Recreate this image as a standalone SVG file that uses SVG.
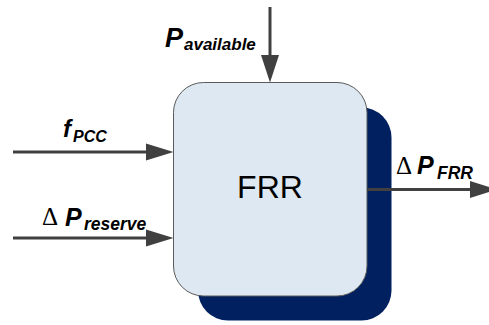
<svg xmlns="http://www.w3.org/2000/svg" width="489" height="325" viewBox="0 0 489 325">
<style>
.ln{stroke:#404040;stroke-width:3;fill:none}
.hd{fill:#404040}
.bi{font-family:"Liberation Sans",Arial,sans-serif;font-weight:bold;font-style:italic;fill:#000}
.dl{font-family:"Liberation Serif","Times New Roman",serif;fill:#000}
</style>
<rect width="489" height="325" fill="#fff"/>
<g id="frr">
<rect x="198" y="107.5" width="193.5" height="213" rx="30" fill="#002060"/>
<rect x="173.5" y="82.5" width="193.5" height="213.5" rx="30" fill="#dee8f2" stroke="#5a5a5a" stroke-width="1"/>
<text x="270" y="198" font-family="Liberation Sans,Arial,sans-serif" font-size="32" text-anchor="middle" fill="#000">FRR</text>
</g>
<g id="connectors">
<line class="ln" x1="270" y1="7" x2="270" y2="56"/>
<polygon class="hd" points="261,55 279,55 270,82.5"/>
<line class="ln" x1="13" y1="152" x2="147" y2="152"/>
<polygon class="hd" points="146,143.5 146,160.5 173.5,152"/>
<line class="ln" x1="13" y1="238" x2="147" y2="238"/>
<polygon class="hd" points="146,229.5 146,246.5 173.5,238"/>
<line class="ln" x1="367" y1="189.5" x2="471" y2="189.5"/>
<polygon class="hd" points="470,181 470,198 497,189.5"/>
</g>
<g id="labels">
<text class="bi" x="165" y="47" font-size="27">P</text>
<text class="bi" x="184" y="50" font-size="17">available</text>
<text class="bi" x="63" y="137" font-size="24">f</text>
<text class="bi" x="73" y="142" font-size="16">PCC</text>
<text class="dl" x="42" y="225" font-size="25">Δ</text>
<text class="bi" x="65" y="226" font-size="25">P</text>
<text class="bi" x="84" y="230" font-size="17.5">reserve</text>
<text class="dl" x="396" y="174" font-size="25">Δ</text>
<text class="bi" x="417" y="174" font-size="25">P</text>
<text class="bi" x="437" y="179" font-size="17.5">FRR</text>
</g>
</svg>
